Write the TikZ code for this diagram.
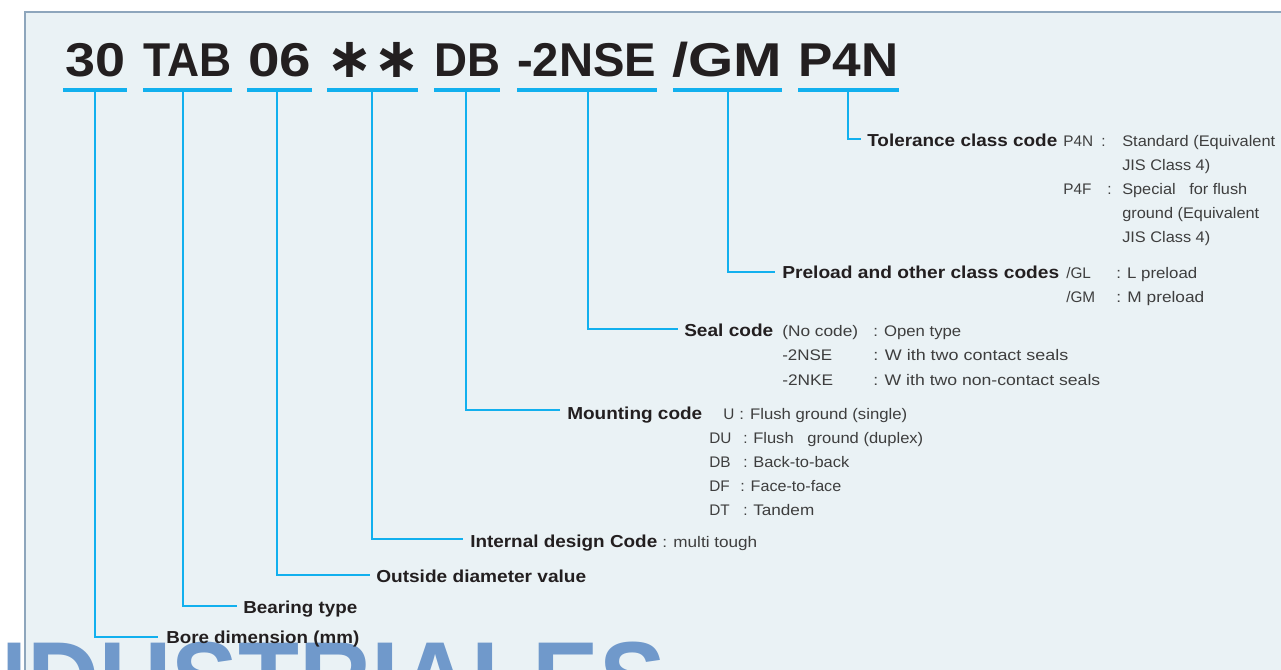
\documentclass[tikz,border=0pt]{standalone}
\usepackage{fontspec}
\setmainfont{Liberation Sans}
\newfontfamily\astfont{DejaVu Sans}
\usepackage{graphicx}
\newdimen\px \px=0.75pt
\newcommand{\fitw}[2]{\resizebox{#1\px}{\height}{#2}}
\definecolor{ink}{HTML}{231F20}
\definecolor{dgray}{HTML}{3E3E3E}
\definecolor{cyanline}{HTML}{12B0EE}
\definecolor{panel}{HTML}{EAF2F5}
\definecolor{pborder}{HTML}{8EA6BC}
\definecolor{wmark}{HTML}{7099CB}
\begin{document}
\begin{tikzpicture}[x=0.75pt,y=-0.75pt,
  ttl/.style={anchor=base west, inner sep=0pt, text=ink, font=\bfseries\fontsize{35.6pt}{40pt}\selectfont},
  lbl/.style={anchor=base west, inner sep=0pt, text=ink, font=\bfseries\fontsize{13pt}{15pt}\selectfont},
  dsc/.style={anchor=base west, inner sep=0pt, text=dgray, font=\fontsize{11.5pt}{14pt}\selectfont},
  uline/.style={draw=cyanline, line width=3pt},
  conn/.style={draw=cyanline, line width=1.2pt}]
\useasboundingbox (0,0) rectangle (1281,670);
\clip (0,0) rectangle (1281,670);
\fill[white] (0,0) rectangle (1281,670);
\filldraw[fill=panel, draw=pborder, line width=0.9pt] (25,12) rectangle (1300,700);
% watermark
\node[anchor=north east, inner sep=0pt, text=wmark, font=\bfseries\fontsize{80pt}{84pt}\selectfont] (wm) at (666,642) {\fitw{738}{INDUSTRIALES}};
% title
\node[ttl] (t30) at (65,77) {\fitw{60}{30}};
\node[ttl] (tTAB) at (143,77) {\fitw{88}{TAB}};
\node[ttl] (t06) at (248,77) {\fitw{63}{06}};
\node[anchor=base, inner sep=0pt, text=ink, font=\astfont\bfseries\fontsize{42pt}{46pt}\selectfont] (tast) at (373,78) {∗∗};
\node[ttl] (tDB) at (434,77) {\fitw{66}{DB}};
\node[ttl] (tNSE) at (517,77) {\fitw{139}{-2NSE}};
\node[ttl] (tGM) at (672,77) {\fitw{110}{/GM}};
\node[ttl] (tP4N) at (798,77) {\fitw{100}{P4N}};
% underlines
\draw[uline] (63,90) -- (127,90);
\draw[uline] (143,90) -- (232,90);
\draw[uline] (247,90) -- (312,90);
\draw[uline] (327,90) -- (418,90);
\draw[uline] (434,90) -- (500,90);
\draw[uline] (517,90) -- (657,90);
\draw[uline] (673,90) -- (782,90);
\draw[uline] (798,90) -- (899,90);
% connector coordinates
\coordinate (u30) at (95,91);   \coordinate (e30) at (158,637);
\coordinate (uTAB) at (183,91); \coordinate (eTAB) at (237,606);
\coordinate (u06) at (277,91);  \coordinate (e06) at (370,575);
\coordinate (uast) at (372,91); \coordinate (east) at (463,539);
\coordinate (uDB) at (466,91);  \coordinate (eDB) at (560,410);
\coordinate (uNSE) at (588,91); \coordinate (eNSE) at (678,329);
\coordinate (uGM) at (728,91);  \coordinate (eGM) at (775,272);
\coordinate (uP4N) at (848,91); \coordinate (eP4N) at (861,139);
\draw[conn] (u30) |- (e30);
\draw[conn] (uTAB) |- (eTAB);
\draw[conn] (u06) |- (e06);
\draw[conn] (uast) |- (east);
\draw[conn] (uDB) |- (eDB);
\draw[conn] (uNSE) |- (eNSE);
\draw[conn] (uGM) |- (eGM);
\draw[conn] (uP4N) |- (eP4N);
% labels
\node[lbl] (L1) at (867,147) {\fitw{190}{Tolerance class code}};
\node[lbl] (L2) at (782,278) {\fitw{277}{Preload and other class codes}};
\node[lbl] (L3) at (684,336) {\fitw{89}{Seal code}};
\node[lbl] (L4) at (567,419) {\fitw{135}{Mounting code}};
\node[lbl] (L5) at (470,547) {\fitw{187}{Internal design Code}};
\node[lbl] (L6) at (376,582) {\fitw{210}{Outside diameter value}};
\node[lbl] (L7) at (243,613) {\fitw{114}{Bearing type}};
\node[lbl] (L8) at (166,643) {\fitw{193}{Bore dimension (mm)}};
% tolerance descriptions
\node[dsc] (d1a) at (1063,147) {P4N};
\node[dsc] (d1b) at (1101,147) {:};
\node[dsc] (d1c) at (1122,147) {\fitw{153}{Standard (Equivalent}};
\node[dsc] (d2) at (1122,171) {\fitw{88}{JIS Class 4)}};
\node[dsc] (d3a) at (1063,195) {P4F};
\node[dsc] (d3b) at (1107,195) {:};
\node[dsc] (d3c) at (1122,195) {\fitw{125}{Special~~~for flush}};
\node[dsc] (d4) at (1122,219) {\fitw{137}{ground (Equivalent}};
\node[dsc] (d5) at (1122,243) {\fitw{88}{JIS Class 4)}};
% preload descriptions
\node[dsc] (p1a) at (1066,278) {/GL};
\node[dsc] (p1b) at (1116,278) {\fitw{81}{: L preload}};
\node[dsc] (p2a) at (1066,302) {/GM};
\node[dsc] (p2b) at (1116,302) {\fitw{88}{: M preload}};
% seal descriptions
\node[dsc] (s1a) at (782,336) {\fitw{76}{(No code)}};
\node[dsc] (s1b) at (873,336) {\fitw{88}{: Open type}};
\node[dsc] (s2a) at (782,360) {\fitw{50}{-2NSE}};
\node[dsc] (s2b) at (873,360) {\fitw{195}{: W ith two contact seals}};
\node[dsc] (s3a) at (782,385) {\fitw{51}{-2NKE}};
\node[dsc] (s3b) at (873,385) {\fitw{227}{: W ith two non-contact seals}};
% mounting descriptions
\node[dsc] (m1a) at (723,419) {U};
\node[dsc] (m1b) at (739,419) {\fitw{168}{: Flush ground (single)}};
\node[dsc] (m2a) at (709,443) {DU};
\node[dsc] (m2b) at (743,443) {:};
\node[dsc] (m2c) at (753,443) {\fitw{170}{Flush~~~ground (duplex)}};
\node[dsc] (m3a) at (709,467) {DB};
\node[dsc] (m3b) at (743,467) {:};
\node[dsc] (m3c) at (753,467) {\fitw{96}{Back-to-back}};
\node[dsc] (m4a) at (709,491) {DF};
\node[dsc] (m4b) at (740,491) {\fitw{101}{: Face-to-face}};
\node[dsc] (m5a) at (709,515) {DT};
\node[dsc] (m5b) at (743,515) {:};
\node[dsc] (m5c) at (753,515) {\fitw{61}{Tandem}};
% internal design description
\node[dsc] (i1) at (662,547) {\fitw{95}{: multi tough}};
\end{tikzpicture}
\end{document}
